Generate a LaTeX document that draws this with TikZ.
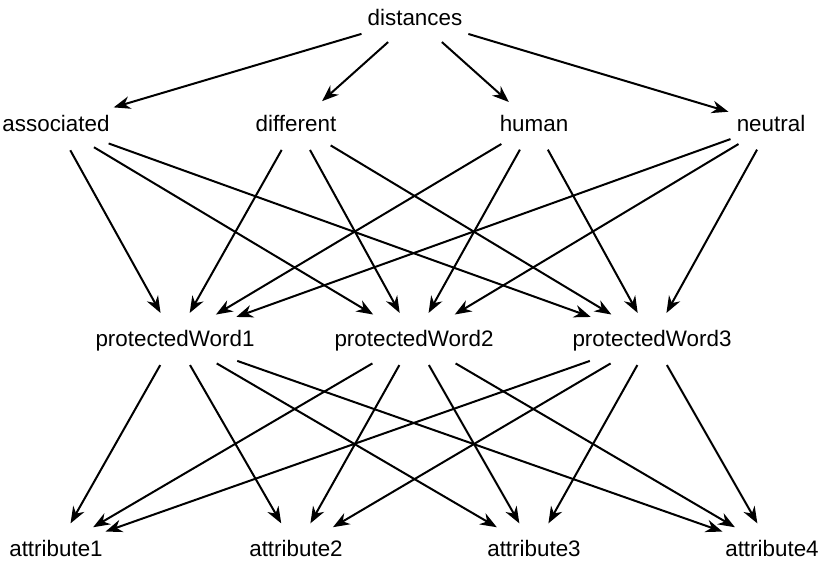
\documentclass[tikz,border=0pt]{standalone}
\usepackage{fontspec}
\setmainfont{Liberation Sans}
\usepackage{tikz}
\usetikzlibrary{arrows.meta}
\usetikzlibrary{shapes.geometric}

\begin{document}
\begin{tikzpicture}[x=0.75pt, y=-0.75pt]
		\tikzset{word/.style={shape = ellipse, inner sep = 0pt, minimum height = 39pt,
				text height = 13.5pt, text depth = 3pt,
				font = \fontsize{16.8pt}{20pt}\selectfont}}
		\tikzset{arc/.style={-{Stealth[length = 12.5pt, width = 9.5pt, inset = 4pt]}, line width = 1.5pt}}
		\useasboundingbox (0, 0) rectangle (820, 564);
		%vertices
		\node[word] (distances) at (415, 18) {distances};
		\node[word] (associated) at (56, 124.5) {associated};
		\node[word] (different) at (296, 124.5) {different};
		\node[word] (human) at (534, 124.5) {human};
		\node[word] (neutral) at (771, 124.5) {neutral};
		\node[word] (pw1) at (175, 339) {protectedWord1};
		\node[word] (pw2) at (414, 339) {protectedWord2};
		\node[word] (pw3) at (652, 339) {protectedWord3};
		\node[word] (attr1) at (56, 549) {attribute1};
		\node[word] (attr2) at (296, 549) {attribute2};
		\node[word] (attr3) at (534, 549) {attribute3};
		\node[word] (attr4) at (772, 549) {attribute4};
		%edges
		\path (distances) edge[arc] (associated) edge[arc] (different)
			edge[arc] (human) edge[arc] (neutral);
		\path (associated) edge[arc] (pw1) edge[arc] (pw2) edge[arc] (pw3);
		\path (different) edge[arc] (pw1) edge[arc] (pw2) edge[arc] (pw3);
		\path (human) edge[arc] (pw1) edge[arc] (pw2) edge[arc] (pw3);
		\path (neutral) edge[arc] (pw1) edge[arc] (pw2) edge[arc] (pw3);
		\path (pw1) edge[arc] (attr1) edge[arc] (attr2) edge[arc] (attr3) edge[arc] (attr4);
		\path (pw2) edge[arc] (attr1) edge[arc] (attr2) edge[arc] (attr3) edge[arc] (attr4);
		\path (pw3) edge[arc] (attr1) edge[arc] (attr2) edge[arc] (attr3) edge[arc] (attr4);
\end{tikzpicture}
\end{document}
